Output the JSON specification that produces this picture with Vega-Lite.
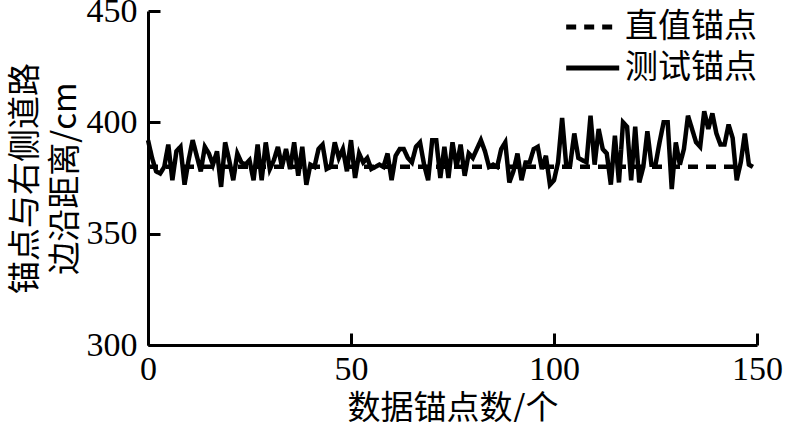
{
  "$schema": "https://vega.github.io/schema/vega-lite/v6.json",
  "width": 609,
  "height": 334,
  "autosize": "none",
  "padding": {"left": 148, "top": 11, "right": 28, "bottom": 77},
  "background": "white",
  "config": {
    "view": {"stroke": null},
    "axis": {
      "grid": false,
      "domainColor": "black",
      "domainWidth": 3,
      "tickColor": "black",
      "tickWidth": 3,
      "tickSize": -12,
      "labelFlush": false,
      "labelFont": "Liberation Serif",
      "labelFontSize": 34,
      "labelColor": "black",
      "titleFont": "Noto Sans CJK SC",
      "titleFontSize": 33,
      "titleFontWeight": "normal",
      "titleColor": "black"
    },
    "legend": {
      "labelFont": "Noto Sans CJK SC",
      "labelFontSize": 33,
      "labelColor": "black",
      "symbolType": "M-1.5,0H1",
      "symbolSize": 1800,
      "symbolStrokeWidth": 5,
      "symbolStrokeColor": "black",
      "symbolFillColor": "transparent",
      "rowPadding": 0,
      "labelOffset": 3
    }
  },
  "data": {
    "values": [
      {"x": 0, "y": 380, "s": "直值锚点"},
      {"x": 146, "y": 380, "s": "直值锚点"},
      {"x":0,"y":392,"s":"测试锚点"},{"x":1,"y":384,"s":"测试锚点"},{"x":2,"y":378,"s":"测试锚点"},{"x":3,"y":377,"s":"测试锚点"},{"x":4,"y":380,"s":"测试锚点"},
      {"x":5,"y":390,"s":"测试锚点"},{"x":6,"y":374,"s":"测试锚点"},{"x":7,"y":387,"s":"测试锚点"},{"x":8,"y":389,"s":"测试锚点"},{"x":9,"y":372,"s":"测试锚点"},
      {"x":10,"y":383,"s":"测试锚点"},{"x":11,"y":392,"s":"测试锚点"},{"x":12,"y":385,"s":"测试锚点"},{"x":13,"y":378,"s":"测试锚点"},{"x":14,"y":389,"s":"测试锚点"},
      {"x":15,"y":386,"s":"测试锚点"},{"x":16,"y":381,"s":"测试锚点"},{"x":17,"y":387,"s":"测试锚点"},{"x":18,"y":371,"s":"测试锚点"},{"x":19,"y":391,"s":"测试锚点"},
      {"x":20,"y":383,"s":"测试锚点"},{"x":21,"y":374,"s":"测试锚点"},{"x":22,"y":386,"s":"测试锚点"},{"x":23,"y":382,"s":"测试锚点"},{"x":24,"y":381,"s":"测试锚点"},
      {"x":25,"y":383,"s":"测试锚点"},{"x":26,"y":374,"s":"测试锚点"},{"x":27,"y":390,"s":"测试锚点"},{"x":28,"y":374,"s":"测试锚点"},{"x":29,"y":391,"s":"测试锚点"},
      {"x":30,"y":379,"s":"测试锚点"},{"x":31,"y":383,"s":"测试锚点"},{"x":32,"y":389,"s":"测试锚点"},{"x":33,"y":380,"s":"测试锚点"},{"x":34,"y":388,"s":"测试锚点"},
      {"x":35,"y":379,"s":"测试锚点"},{"x":36,"y":391,"s":"测试锚点"},{"x":37,"y":376,"s":"测试锚点"},{"x":38,"y":389,"s":"测试锚点"},{"x":39,"y":372,"s":"测试锚点"},
      {"x":40,"y":381,"s":"测试锚点"},{"x":41,"y":380,"s":"测试锚点"},{"x":42,"y":388,"s":"测试锚点"},{"x":43,"y":390,"s":"测试锚点"},{"x":44,"y":379,"s":"测试锚点"},
      {"x":45,"y":380,"s":"测试锚点"},{"x":46,"y":391,"s":"测试锚点"},{"x":47,"y":384,"s":"测试锚点"},{"x":48,"y":388,"s":"测试锚点"},{"x":49,"y":378,"s":"测试锚点"},
      {"x":50,"y":392,"s":"测试锚点"},{"x":51,"y":375,"s":"测试锚点"},{"x":52,"y":386,"s":"测试锚点"},{"x":53,"y":382,"s":"测试锚点"},{"x":54,"y":384,"s":"测试锚点"},
      {"x":55,"y":379,"s":"测试锚点"},{"x":56,"y":380,"s":"测试锚点"},{"x":57,"y":381,"s":"测试锚点"},{"x":58,"y":380,"s":"测试锚点"},{"x":59,"y":386,"s":"测试锚点"},
      {"x":60,"y":374,"s":"测试锚点"},{"x":61,"y":385,"s":"测试锚点"},{"x":62,"y":388,"s":"测试锚点"},{"x":63,"y":388,"s":"测试锚点"},{"x":64,"y":384,"s":"测试锚点"},
      {"x":65,"y":382,"s":"测试锚点"},{"x":66,"y":389,"s":"测试锚点"},{"x":67,"y":391,"s":"测试锚点"},{"x":68,"y":381,"s":"测试锚点"},{"x":69,"y":374,"s":"测试锚点"},
      {"x":70,"y":392,"s":"测试锚点"},{"x":71,"y":392,"s":"测试锚点"},{"x":72,"y":375,"s":"测试锚点"},{"x":73,"y":389,"s":"测试锚点"},{"x":74,"y":375,"s":"测试锚点"},
      {"x":75,"y":391,"s":"测试锚点"},{"x":76,"y":380,"s":"测试锚点"},{"x":77,"y":390,"s":"测试锚点"},{"x":78,"y":376,"s":"测试锚点"},{"x":79,"y":386,"s":"测试锚点"},
      {"x":80,"y":384,"s":"测试锚点"},{"x":81,"y":388,"s":"测试锚点"},{"x":82,"y":392,"s":"测试锚点"},{"x":83,"y":387,"s":"测试锚点"},{"x":84,"y":380,"s":"测试锚点"},
      {"x":85,"y":381,"s":"测试锚点"},{"x":86,"y":380,"s":"测试锚点"},{"x":87,"y":388,"s":"测试锚点"},{"x":88,"y":391,"s":"测试锚点"},{"x":89,"y":373,"s":"测试锚点"},
      {"x":90,"y":378,"s":"测试锚点"},{"x":91,"y":386,"s":"测试锚点"},{"x":92,"y":374,"s":"测试锚点"},{"x":93,"y":382,"s":"测试锚点"},{"x":94,"y":382,"s":"测试锚点"},
      {"x":95,"y":388,"s":"测试锚点"},{"x":96,"y":389,"s":"测试锚点"},{"x":97,"y":379,"s":"测试锚点"},{"x":98,"y":385,"s":"测试锚点"},{"x":99,"y":372,"s":"测试锚点"},
      {"x":100,"y":374,"s":"测试锚点"},{"x":101,"y":382,"s":"测试锚点"},{"x":102,"y":402,"s":"测试锚点"},{"x":103,"y":381,"s":"测试锚点"},{"x":104,"y":381,"s":"测试锚点"},
      {"x":105,"y":395,"s":"测试锚点"},{"x":106,"y":384,"s":"测试锚点"},{"x":107,"y":383,"s":"测试锚点"},{"x":108,"y":382,"s":"测试锚点"},{"x":109,"y":403,"s":"测试锚点"},
      {"x":110,"y":381,"s":"测试锚点"},{"x":111,"y":397,"s":"测试锚点"},{"x":112,"y":388,"s":"测试锚点"},{"x":113,"y":386,"s":"测试锚点"},{"x":114,"y":372,"s":"测试锚点"},
      {"x":115,"y":394,"s":"测试锚点"},{"x":116,"y":373,"s":"测试锚点"},{"x":117,"y":400,"s":"测试锚点"},{"x":118,"y":398,"s":"测试锚点"},{"x":119,"y":374,"s":"测试锚点"},
      {"x":120,"y":398,"s":"测试锚点"},{"x":121,"y":373,"s":"测试锚点"},{"x":122,"y":380,"s":"测试锚点"},{"x":123,"y":396,"s":"测试锚点"},{"x":124,"y":381,"s":"测试锚点"},
      {"x":125,"y":381,"s":"测试锚点"},{"x":126,"y":391,"s":"测试锚点"},{"x":127,"y":400,"s":"测试锚点"},{"x":128,"y":400,"s":"测试锚点"},{"x":129,"y":370,"s":"测试锚点"},
      {"x":130,"y":391,"s":"测试锚点"},{"x":131,"y":381,"s":"测试锚点"},{"x":132,"y":388,"s":"测试锚点"},{"x":133,"y":403,"s":"测试锚点"},{"x":134,"y":397,"s":"测试锚点"},
      {"x":135,"y":391,"s":"测试锚点"},{"x":136,"y":389,"s":"测试锚点"},{"x":137,"y":405,"s":"测试锚点"},{"x":138,"y":397,"s":"测试锚点"},{"x":139,"y":404,"s":"测试锚点"},
      {"x":140,"y":395,"s":"测试锚点"},{"x":141,"y":390,"s":"测试锚点"},{"x":142,"y":390,"s":"测试锚点"},{"x":143,"y":399,"s":"测试锚点"},{"x":144,"y":393,"s":"测试锚点"},
      {"x":145,"y":374,"s":"测试锚点"},{"x":146,"y":382,"s":"测试锚点"},{"x":147,"y":395,"s":"测试锚点"},{"x":148,"y":381,"s":"测试锚点"},{"x":149,"y":380,"s":"测试锚点"}
    ]
  },
  "mark": {"type": "line", "color": "black", "strokeWidth": 4.5},
  "encoding": {
    "x": {
      "field": "x", "type": "quantitative",
      "scale": {"domain": [0, 150], "nice": false},
      "axis": {"values": [0, 50, 100, 150], "labelPadding": 19, "title": "数据锚点数/个", "titlePadding": 6}
    },
    "y": {
      "field": "y", "type": "quantitative",
      "scale": {"domain": [300, 450], "nice": false, "zero": false},
      "axis": {"values": [300, 350, 400, 450], "labelPadding": 23, "title": ["锚点与右侧道路", "边沿距离/cm"], "titleLineHeight": 40, "titlePadding": 4}
    },
    "strokeDash": {
      "field": "s", "type": "nominal",
      "scale": {"domain": ["直值锚点", "测试锚点"], "range": [[10, 8], [1, 0]]},
      "legend": {"title": null, "orient": "none", "legendX": 426, "legendY": -8}
    },
    "order": {"field": "x", "type": "quantitative"}
  }
}
